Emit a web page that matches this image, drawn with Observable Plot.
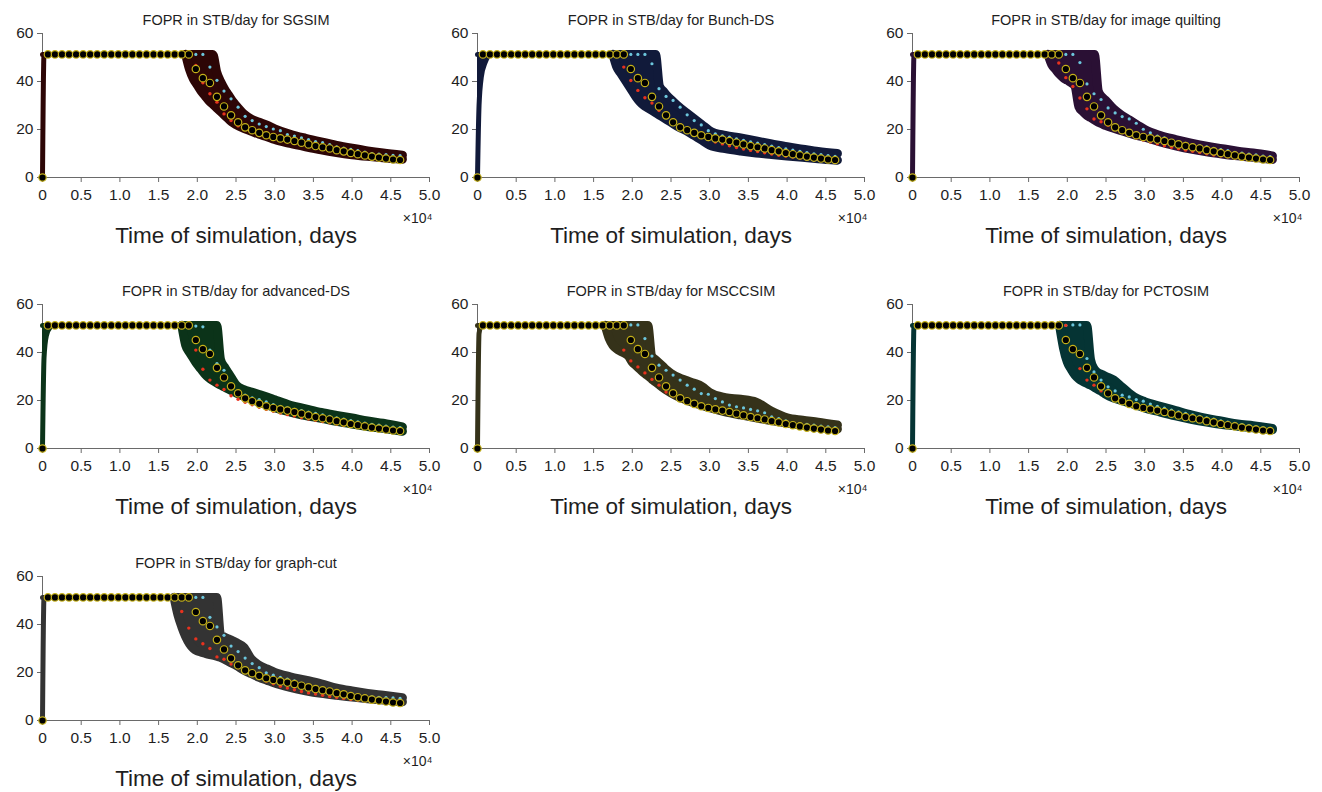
<!DOCTYPE html>
<html><head><meta charset="utf-8">
<script src="https://cdn.jsdelivr.net/npm/d3@7"></script>
<script src="https://cdn.jsdelivr.net/npm/@observablehq/plot@0.6"></script>
<style>
body{margin:0;background:#fff;}
#wrap{position:relative;width:1322px;height:792px;overflow:hidden;background:#fff;}
#wrap svg{position:absolute;}
</style></head><body><div id="wrap"></div>
<script>
const F = 51.3, N = null;

// observed (history) data, shared by all panels
const obsTime = [0, 700, 1610, 2520, 3430, 4340, 5250, 6160, 7070, 7980, 8890, 9800, 10710, 11620, 12530, 13440, 14350, 15260, 16170, 17080, 17990, 18900, 19810, 20720, 21630, 22540, 23450, 24360, 25270, 26180, 27090, 28000, 28910, 29820, 30730, 31640, 32550, 33460, 34370, 35280, 36190, 37100, 38010, 38920, 39830, 40740, 41650, 42560, 43470, 44380, 45290, 46200];
const obsRate = [0, 51.3, 51.3, 51.3, 51.3, 51.3, 51.3, 51.3, 51.3, 51.3, 51.3, 51.3, 51.3, 51.3, 51.3, 51.3, 51.3, 51.3, 51.3, 51.3, 51.3, 51.3,
  45.2, 41.4, 39.4, 33.6, 29.6, 25.9, 23, 20.9, 19.7, 18.6, 17.6, 16.9, 16.3, 15.8, 15.2, 14.5, 13.8, 13.1, 12.6, 12.1, 11.4, 10.9, 10.2, 9.7, 9.2, 8.7, 8.3, 7.9, 7.5, 7.3];

// times of the cyan / red statistics (from 1.8e4 days on)
const statTime = [17990, 18900, 19810, 20720, 21630, 22540, 23450, 24360, 25270, 26180, 27090, 28000, 28910, 29820, 30730, 31640, 32550, 33460, 34370, 35280, 36190, 37100, 38010, 38920, 39830, 40740, 41650, 42560, 43470, 44380, 45290, 46200];

// envelope grid of the ensemble band
const bandTime = [0, 200, 500, 1000, 1500, 9000, 16500, 17000, 17500, 18000, 18500, 19000, 19500, 20000, 20500, 21000, 21500, 22000, 22500, 23000, 23500, 24000, 24500, 25000, 26000, 27000, 28000, 29000, 30000, 32000, 34000, 36000, 38000, 40000, 42000, 44000, 46500];

const sgsimLo = [0, F, F, F, F, N, N, N, N, N, F, 45, 41, 38.5, 36, 34, 32, 30.5, 29, 27.5, 26, 24.5, 23, 22, 20.5, 19.3, 18, 17, 15.8, 14.2, 12.8, 11.5, 10.4, 9.5, 8.8, 8.2, 7.6];
const sgsimHi = [F, F, F, F, F, N, N, N, N, N, F, F, F, F, F, F, F, F, 44, 40, 37, 34.5, 32, 30, 26.5, 24.3, 23, 21.8, 20.3, 18, 16.3, 14.8, 13.4, 12.2, 11.1, 10.2, 9.3];
const sgsimCyan = [51.3, 51.3, 51.3, 51.3, 46, 40.5, 36, 32.8, 29.3, 25.5, 23.7, 22.3, 21.2, 20.2, 19.5, 17.9, 17.3, 16.5, 15.8, 15, 14.5, 13.7, 12.8, 12.3, 11.7, 11.2, 10.6, 10, 9.8, 9.5, 9.2, 9.1];
const sgsimRed = [51.3, 51.3, 46.7, 39.5, 34.9, 31.4, 26.5, 23.7, 21.5, 20.3, 19, 17.8, 16.8, 16, 15.5, 15, 14.5, 13.8, 13.2, 12.6, 12, 11.5, 11, 10.5, 10, 9.5, 9, 8.6, 8.2, 7.8, 7.4, 7.1];

const bunchLo = [0, 30, 42, 48, F, N, N, N, F, 46, 43.5, 41, 38.5, 36, 33.5, 31.5, 30, 29, 28, 27, 26, 25, 24, 23, 21, 19.5, 17.5, 15.5, 13.5, 12, 11, 10.2, 9.6, 9, 8.4, 7.8, 7.2];
const bunchHi = [F, F, F, F, F, N, N, N, F, F, F, F, F, F, F, F, F, F, F, F, 38, 36, 34, 32.5, 29.5, 27, 24.5, 22, 19.5, 17.5, 16.5, 15.2, 14, 12.8, 11.8, 10.8, 10];
const bunchCyan = [51.3, 51.3, 51.3, 51.3, 51.3, 47.4, 37, 33.8, 32.1, 29.3, 26.1, 23.7, 21.9, 19.5, 18.2, 17.4, 16.8, 16.1, 15.5, 14.9, 14.3, 13.7, 13.1, 12.5, 11.9, 11.4, 10.9, 10.4, 9.9, 9.5, 9.1, 8.8];
const bunchRed = [51.3, 46, 40.4, 36.3, 33.2, 31, 27.9, 25.8, 24, 22, 20.5, 19, 17.3, 15.8, 14.8, 14, 13.2, 12.5, 11.9, 11.3, 10.8, 10.3, 9.8, 9.3, 8.9, 8.5, 8.1, 7.8, 7.5, 7.2, 6.9, 6.7];

const quiltLo = [0, F, F, F, F, N, N, N, F, 47, 45, 43, 41.5, 40.5, 39.5, 38, 29.5, 27.5, 26, 25, 24, 23, 22.3, 21.6, 20.5, 19.5, 18.5, 17.5, 16.8, 14.8, 13.2, 11.8, 10.7, 9.8, 9, 8.4, 7.5];
const quiltHi = [F, F, F, F, F, N, N, N, F, F, F, F, F, F, F, F, F, F, F, F, F, 36, 33.5, 32, 28.5, 26, 24, 22, 20, 17.5, 15.8, 14.3, 13, 12, 11, 10.2, 9];
const quiltCyan = [51.3, 51.3, 51.3, 51.3, 47.9, 39, 34.9, 32.5, 29, 26.9, 25.4, 24.4, 22.6, 20.1, 18.6, 17.3, 16.5, 15.4, 14.6, 14.2, 13.7, 13.3, 12.8, 12.1, 11.6, 11.2, 10.5, 10.2, 9.8, 9.4, 8.9, 8.7];
const quiltRed = [51.3, 47.7, 41.6, 37.9, 33.1, 28.6, 24.4, 23.2, 21.8, 20.3, 19, 17.7, 16.5, 15.6, 14.8, 14, 13.2, 12.6, 12, 11.4, 10.9, 10.4, 9.9, 9.4, 9, 8.6, 8.2, 7.8, 7.5, 7.2, 6.9, 6.7];

const advLo = [0, 38, 47, 50.5, F, N, N, N, N, F, 43, 40, 37.5, 35, 33, 31, 29.5, 28.3, 27.3, 26.4, 25.6, 24.8, 24, 23.2, 21.8, 20.5, 19.3, 18.2, 17, 15.2, 13.7, 12.6, 11.3, 10.2, 9.2, 8.4, 7.2];
const advHi = [F, F, F, F, F, N, N, N, N, F, F, F, F, F, F, F, F, F, F, 37, 34, 31.5, 29, 26.5, 24.5, 23.5, 22.5, 21.5, 20.3, 18, 16.5, 15, 13.8, 12.7, 11.5, 10.5, 9];
const advCyan = [51.3, 51.3, 51, 50.7, 41, 35.4, 32.6, 26.4, 23.6, 22.2, 21.1, 20.4, 19.4, 18.3, 17.6, 16.9, 16.3, 15.8, 15.2, 14.6, 14, 13.4, 12.8, 12.3, 11.6, 11.1, 10.6, 10.1, 9.7, 9.3, 8.9, 8.7];
const advRed = [51.3, 51.3, 41, 33, 28.5, 26.4, 24.6, 22, 20.5, 19.3, 18.2, 17.2, 16.3, 15.5, 14.8, 14.1, 13.5, 12.9, 12.3, 11.8, 11.2, 10.7, 10.2, 9.7, 9.3, 8.9, 8.5, 8.1, 7.8, 7.5, 7.2, 6.9];

const msccLo = [0, 48, 51, F, F, N, F, 46, 43, 41.5, 40.5, 39.7, 38.5, 36, 34.5, 33, 31.5, 30.3, 29, 27.7, 26.5, 25.3, 24.2, 23.2, 21.5, 20.2, 19, 18, 17, 15.3, 14, 12.8, 11.6, 10.6, 9.7, 8.9, 8.1];
const msccHi = [F, F, F, F, F, N, F, F, F, F, F, F, F, F, F, F, F, F, 38.5, 37, 35.5, 34, 32.5, 31.3, 29.5, 28.3, 27.2, 25.8, 23.3, 21.2, 20.5, 19.3, 15.5, 12.8, 11.8, 11, 9.8];
const msccCyan = [51.3, 51.3, 51.5, 51.5, 45.8, 38.5, 34.7, 32.6, 30.6, 28.5, 26.4, 24.7, 22.9, 22.6, 20.8, 19.4, 18.1, 17.4, 16.9, 16.3, 15.7, 14.9, 13.2, 12.5, 11.5, 10.7, 10.4, 10.1, 9.7, 9.3, 9, 8.75];
const msccRed = [51.3, 41, 36.5, 34, 31.5, 28.8, 26.4, 23.5, 22, 20.5, 19.3, 18.3, 17.3, 16.6, 15.9, 15.2, 14.6, 14, 13.3, 12.7, 12.1, 11.5, 10.9, 10.4, 9.9, 9.4, 8.9, 8.5, 8.1, 7.8, 7.5, 7.2];

const pctoLo = [0, F, F, F, F, N, N, N, N, N, N, F, 42, 36, 33, 30.5, 29, 28, 27.2, 26.4, 25.5, 24.5, 23.6, 22.5, 21, 20, 19, 18, 16.9, 15.2, 13.6, 12.2, 11, 10, 9.3, 8.6, 7.8];
const pctoHi = [F, F, F, F, F, N, N, N, N, N, N, F, F, F, F, F, F, F, F, 37, 33, 31.5, 30.8, 30, 28.5, 25.8, 23, 20.8, 19.5, 17.6, 15.8, 14, 12.5, 11.4, 10.2, 9.5, 8.4];
const pctoCyan = [51.3, 51.3, 51.3, 51.5, 51.5, 37.5, 31.9, 28.5, 25.7, 24, 22.2, 21.5, 20.4, 19.7, 18.5, 17.6, 16.8, 16, 15.3, 14.6, 14, 13.4, 12.8, 12.2, 11.5, 11, 10.5, 10, 9.5, 9.1, 8.7, 8.4];
const pctoRed = [51.3, 51.3, 51.3, 41, 33.3, 28.5, 26.4, 24, 22.3, 20.8, 19.5, 18.3, 17.3, 16.5, 15.8, 15.2, 14.6, 14, 13.3, 12.6, 12.1, 11.6, 11, 10.5, 10, 9.5, 9, 8.6, 8.1, 7.8, 7.4, 7.1];

const gcutLo = [0, F, F, F, F, N, N, F, 44, 39, 35, 32, 30, 29, 28.5, 28, 27.5, 27.2, 26.8, 26.3, 25.5, 24.7, 23.8, 23, 21, 19.5, 18, 16.8, 15.6, 13.8, 12.4, 11.3, 10.5, 9.8, 9.1, 8.5, 7.8];
const gcutHi = [F, F, F, F, F, N, N, F, F, F, F, F, F, F, F, F, F, F, F, 35.5, 34.8, 34, 33.3, 32.5, 30.5, 25.5, 23, 21.5, 20, 18.2, 16.8, 15.3, 13.5, 12.3, 11.3, 10.5, 9.5];
const gcutCyan = [51.3, 51.3, 51.3, 51.3, 43, 39, 35.5, 31, 28.7, 26, 23.7, 22, 19.9, 18.9, 18, 17.3, 16.5, 15.5, 14.6, 13.8, 13.1, 12.6, 12.3, 11.6, 10.9, 10.5, 10.2, 9.9, 9.6, 9.5, 9.4, 9.2];
const gcutRed = [45.4, 38.5, 34, 32, 30, 26.5, 25.5, 23.5, 22, 20.5, 19, 17.7, 16.4, 15.3, 14.3, 13.5, 12.8, 12.1, 11.5, 11, 10.5, 10, 9.6, 9.2, 8.8, 8.5, 8.2, 7.9, 7.6, 7.3, 7.1, 6.9];

const methods = ["SGSIM", "Bunch-DS", "image quilting", "advanced-DS", "MSCCSIM", "PCTOSIM", "graph-cut"];
const bandColors = ["#2d0606", "#111a3a", "#2a1034", "#0b3319", "#35321a", "#053434", "#333333"];
const loSeries = [sgsimLo, bunchLo, quiltLo, advLo, msccLo, pctoLo, gcutLo];
const hiSeries = [sgsimHi, bunchHi, quiltHi, advHi, msccHi, pctoHi, gcutHi];
const cyanSeries = [sgsimCyan, bunchCyan, quiltCyan, advCyan, msccCyan, pctoCyan, gcutCyan];
const redSeries = [sgsimRed, bunchRed, quiltRed, advRed, msccRed, pctoRed, gcutRed];

const xTicks = [0, 5000, 10000, 15000, 20000, 25000, 30000, 35000, 40000, 45000, 50000];
const xTickLabels = ["0", "0.5", "1.0", "1.5", "2.0", "2.5", "3.0", "3.5", "4.0", "4.5", "5.0"];
const yTicks = [0, 20, 40, 60];

// layout
const colLeft = [0, 435, 870];
const rowTop = [0, 271, 543];

const wrap = document.getElementById("wrap");
const AX = "#6a6a6a", TXT = "#1e1e1e";

methods.forEach((m, i) => {
  const band = bandTime.map((t, j) => ({t, lo: loSeries[i][j], hi: hiSeries[i][j]}));
  const ramp = band.filter(d => d.t < 5000);
  const main = band.filter(d => d.t > 5000);
  const cyan = statTime.map((t, j) => ({t, v: cyanSeries[i][j]}));
  const red = statTime.map((t, j) => ({t, v: redSeries[i][j]}));
  const obs = obsTime.map((t, j) => ({t, v: obsRate[j]}));
  const col = bandColors[i];
  const lineOpts = (w) => ({stroke: col, strokeWidth: w, strokeLinejoin: "round", strokeLinecap: "round", curve: "monotone-x"});
  const svg = Plot.plot({
    width: 441, height: 249,
    marginLeft: 42, marginRight: 12, marginTop: 33, marginBottom: 72,
    style: {fontFamily: "'Liberation Sans', Arial, sans-serif", fontSize: "15px", color: TXT, background: "transparent", overflow: "visible"},
    x: {domain: [0, 50000], axis: null},
    y: {domain: [0, 60], axis: null},
    marks: [
      Plot.ruleY([0], {stroke: AX, strokeWidth: 1}),
      Plot.ruleX([0], {stroke: AX, strokeWidth: 1}),
      Plot.axisX(xTicks, {tickSize: 5, tickPadding: 6, tickFormat: d => xTickLabels[xTicks.indexOf(d)], fontSize: 15.5, stroke: AX, fill: TXT, label: null}),
      Plot.axisY(yTicks, {tickSize: 5, tickPadding: 4, fontSize: 15.5, stroke: AX, fill: TXT, label: null}),
      Plot.area(ramp, {x1: "t", y1: "lo", y2: "hi", fill: col, curve: "monotone-x"}),
      Plot.line(ramp, {x: "t", y: "lo", ...lineOpts(5)}),
      Plot.line(ramp, {x: "t", y: "hi", ...lineOpts(5)}),
      Plot.area(main, {x1: "t", y1: "lo", y2: "hi", fill: col, curve: "monotone-x"}),
      Plot.line(main, {x: "t", y: "lo", ...lineOpts(9)}),
      Plot.line(main, {x: "t", y: "hi", ...lineOpts(9)}),
      Plot.dot(cyan, {x: "t", y: "v", r: 1.6, fill: "#6cc6dc", stroke: null}),
      Plot.dot(red, {x: "t", y: "v", r: 1.7, fill: "#e8321e", stroke: null}),
      Plot.dot(obs, {x: "t", y: "v", r: 3.7, fill: "#000", stroke: "#c4b01a", strokeWidth: 1.2}),
      Plot.text([`FOPR in STB/day for ${m}`], {text: d => d, frameAnchor: "top", lineAnchor: "middle", dy: -13, fontSize: 14.5, fill: TXT}),
      Plot.text(["×10⁴"], {text: d => d, frameAnchor: "bottom-right", lineAnchor: "middle", dy: 41, dx: 3, textAnchor: "end", fontSize: 14, fill: TXT}),
      Plot.text(["Time of simulation, days"], {text: d => d, frameAnchor: "bottom", lineAnchor: "middle", dy: 58, fontSize: 22.5, fill: TXT})
    ]
  });
  svg.style.left = colLeft[i % 3] + "px";
  svg.style.top = rowTop[Math.floor(i / 3)] + "px";
  wrap.appendChild(svg);
});
</script>
</body></html>
